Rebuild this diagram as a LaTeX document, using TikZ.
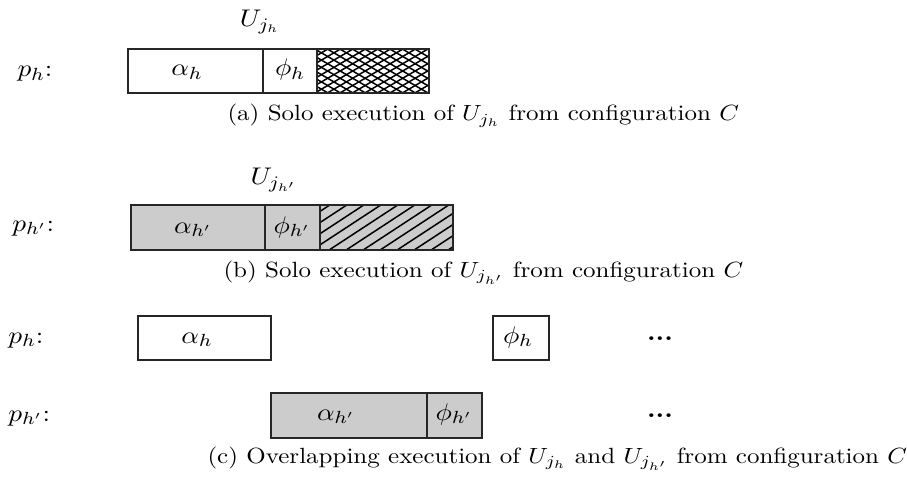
\documentclass[tikz,border=0pt]{standalone}
\usepackage{graphicx}
\newcommand\sq[1]{\scalebox{1}[0.88]{#1}}
\tikzset{
  frame/.style={draw=black!85, line width=0.65pt},
  shaded/.style={frame, fill=black!20},
  hl/.style={line width=0.6pt, black},
  lbl/.style={inner sep=0pt, anchor=base, font=\fontsize{10.8}{12}\selectfont},
  side/.style={inner sep=0pt, anchor=base west, font=\fontsize{10.8}{12}\selectfont},
  captext/.style={inner sep=0pt, anchor=base west, font=\fontsize{10}{12}\selectfont},
}
\begin{document}
\begin{tikzpicture}[x=0.4pt, y=-0.4pt]
\useasboundingbox (0,0) rectangle (907,479);

% ---------- (a) ----------
\node[side] (pa) at (17,77) {\sq{$p_h$:}};
\node[lbl] (ua) at (260,27) {\sq{$U_{j_h}$}};
\draw[frame, fill=white] (128,49) rectangle (263,93);
\draw[frame, fill=white] (263,49) rectangle (317,93);
\begin{scope}
  \clip (317,49) rectangle (429,93);
  \foreach \i in {-8,...,12} {
    \draw[hl] ({317+\i*12.5},99) -- ++(86,-50);
    \draw[hl] ({317+\i*12.5},43) -- ++(86,50);
  }
\end{scope}
\draw[frame] (317,49) rectangle (429,93);
\node[lbl] (aa) at (187,76) {\sq{$\alpha_h$}};
\node[lbl] (fa) at (290,76) {\sq{$\phi_h$}};
\node[captext] (ca) at (227,121) {\sq{(a) Solo execution of $U_{j_h}$ from configuration $C$}};

% ---------- (b) ----------
\node[side] (pb) at (12,231) {\sq{$p_{h'}$:}};
\node[lbl] (ub) at (274,185) {\sq{$U_{j_{h'}}$}};
\draw[shaded] (131,205) rectangle (265,250);
\draw[shaded] (265,205) rectangle (320,250);
\fill[black!20] (320,205) rectangle (453,250);
\begin{scope}
  \clip (320,205) rectangle (453,250);
  \foreach \i in {-6,...,9} {
    \draw[hl] ({320+\i*17},256) -- ++(90,-59);
  }
\end{scope}
\draw[frame] (320,205) rectangle (453,250);
\node[lbl] (ab) at (193,233) {\sq{$\alpha_{h'}$}};
\node[lbl] (fb) at (292,233) {\sq{$\phi_{h'}$}};
\node[captext] (cb) at (223,277) {\sq{(b) Solo execution of $U_{j_{h'}}$ from configuration $C$}};

% ---------- (c) ----------
\node[side] (pc1) at (8,343) {\sq{$p_h$:}};
\draw[frame, fill=white] (138,316) rectangle (271,360);
\node[lbl] (ac) at (197,343) {\sq{$\alpha_h$}};
\draw[frame, fill=white] (493,316) rectangle (549,360);
\node[lbl] (fc) at (518,343) {\sq{$\phi_h$}};
\node[lbl] (d1) at (660,340) {\sq{\textbf{...}}};

\node[side] (pc2) at (8,421) {\sq{$p_{h'}$:}};
\draw[shaded] (271,393) rectangle (427,438);
\draw[shaded] (427,393) rectangle (482,438);
\node[lbl] (ac2) at (336,420) {\sq{$\alpha_{h'}$}};
\node[lbl] (fc2) at (454,420) {\sq{$\phi_{h'}$}};
\node[lbl] (d2) at (660,417) {\sq{\textbf{...}}};
\node[captext] (cc) at (207,463) {\sq{(c) Overlapping execution of $U_{j_h}$ and $U_{j_{h'}}$ from configuration $C$}};
\end{tikzpicture}
\end{document}
